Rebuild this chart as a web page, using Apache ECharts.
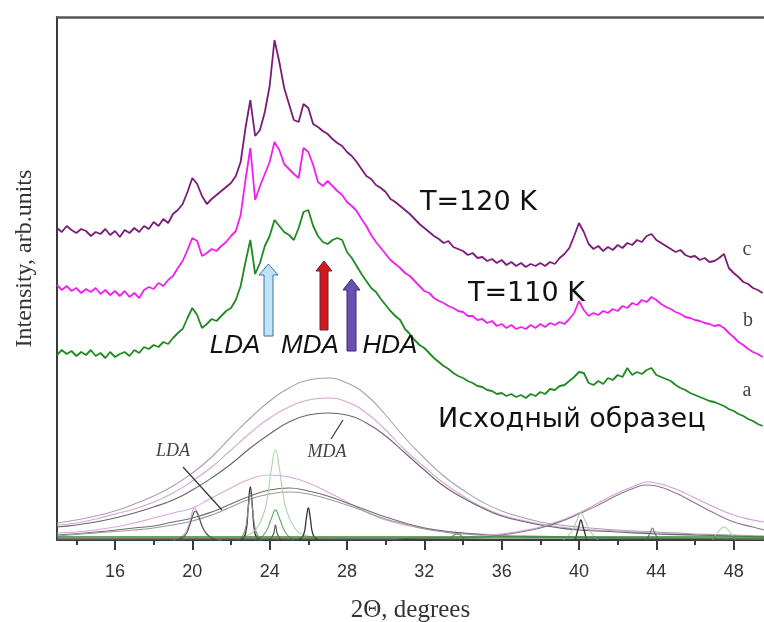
<!DOCTYPE html>
<html>
<head>
<meta charset="utf-8">
<script src="https://cdn.jsdelivr.net/npm/echarts@6/dist/echarts.min.js"></script>
<style>
html,body{margin:0;padding:0;background:#fff;}
#chart{width:764px;height:622px;}
</style>
</head>
<body>
<div id="chart"></div>
<script>
// 2Theta grid of the measured patterns (degrees)
const X = [
13,13.25,13.5,13.75, 14,14.25,14.5,14.75, 15,15.25,15.5,15.75, 16,16.25,16.5,16.75,
17,17.25,17.5,17.75, 18,18.25,18.5,18.75, 19,19.25,19.5,19.75, 20,20.25,20.5,20.75,
21,21.25,21.5,21.75, 22,22.25,22.5,22.75, 23,23.25,23.5,23.75, 24,24.25,24.5,24.75,
25,25.25,25.5,25.75, 26,26.25,26.5,26.75, 27,27.25,27.5,27.75, 28,28.25,28.5,28.75,
29,29.25,29.5,29.75, 30,30.25,30.5,30.75, 31,31.25,31.5,31.75, 32,32.25,32.5,32.75,
33,33.25,33.5,33.75, 34,34.25,34.5,34.75, 35,35.25,35.5,35.75, 36,36.25,36.5,36.75,
37,37.25,37.5,37.75, 38,38.25,38.5,38.75, 39,39.25,39.5,39.75, 40,40.25,40.5,40.75,
41,41.25,41.5,41.75, 42,42.25,42.5,42.75, 43,43.25,43.5,43.75, 44,44.25,44.5,44.75,
45,45.25,45.5,45.75, 46,46.25,46.5,46.75, 47,47.25,47.5,47.75, 48,48.25,48.5,48.75,
49,49.25,49.5
];

// curve c : T=120 K
const specC = [
312,308,314,310, 307,311,309,304, 308,306,311,305, 309,303,310,307,
312,308,314,311, 318,314,321,317, 326,330,336,348, 362,356,344,336,
341,345,349,353, 357,364,378,412, 440,404,410,428, 454,500,478,452,
436,420,418,436, 432,416,413,409, 406,401,397,394, 388,384,378,371,
364,361,355,352, 348,341,338,334, 330,326,321,316, 312,308,304,301,
297,299,293,291, 289,285,287,282, 283,279,281,277, 280,275,278,274,
277,273,276,274, 277,274,278,276, 282,286,292,304, 317,308,296,291,
294,289,293,290, 295,292,297,295, 300,298,304,306, 300,297,294,291,
288,290,285,283, 284,280,282,278, 279,282,286,272, 267,263,258,256,
252,250,247
];

// curve b : T=110 K
const specB = [
255,250,254,249, 252,247,251,248, 252,246,250,245, 249,244,249,243,
247,242,250,253, 251,257,254,260, 264,272,279,290, 302,299,284,287,
291,289,294,298, 304,309,325,360, 392,340,354,366, 378,398,390,376,
371,366,362,392, 388,375,358,354, 359,354,349,345, 338,334,329,321,
314,305,298,292, 286,280,276,272, 267,264,259,254, 249,247,242,239,
237,234,232,229, 228,224,224,220, 221,217,219,214, 216,212,215,211,
213,211,215,212, 216,213,217,215, 218,216,221,227, 239,230,224,227,
225,229,227,231, 229,234,232,237, 235,240,238,243, 240,236,233,231,
228,226,223,222, 220,219,217,216, 214,215,212,207, 203,198,195,191,
188,186,183
];

// curve a : initial sample
const specA = [
185,190,186,189, 184,188,185,190, 184,187,182,188, 183,186,188,184,
190,187,193,191, 195,193,198,196, 202,207,211,222, 232,225,212,216,
221,219,224,229, 232,240,254,278, 300,266,277,294, 304,320,314,308,
305,300,312,328, 330,314,304,298, 296,300,302,300, 288,282,274,266,
259,252,248,241, 235,229,224,220, 211,206,200,195, 192,187,182,178,
174,171,167,164, 162,159,157,154, 153,150,149,146, 147,144,146,143,
145,142,146,144, 148,146,151,150, 154,155,159,163, 168,167,157,155,
159,156,162,160, 165,163,172,165, 168,166,170,172, 165,163,161,159,
155,152,150,147, 145,143,141,139, 138,136,134,131, 129,126,124,121,
119,116,114
];

// fitted components [2Theta, intensity]
const mdaTop = [[13,17],[14,20],[15,24],[16,29],[17,36],[18,44],[19,54],[20,67],[21,83],[22,103],[23,122],[24,139],[25,152],[26,160],[27,162],[28,157],[29,145],[30,125],[31,102],[32,82],[33,64],[34,50],[35,38],[36,29],[37,23],[38,18],[39,15],[40,13],[42,10],[44,8],[46,6],[48,5],[49.57,4]];
const mdaMid = [[13,15],[14,17],[15,21],[16,26],[17,31],[18,38],[19,47],[20,59],[21,73],[22,90],[23,107],[24,122],[25,133],[26,140],[27,142],[28,138],[29,127],[30,110],[31,90],[32,73],[33,57],[34,44],[35,33],[36,25],[37,20],[38,16],[39,13],[40,11],[42,9],[44,7],[46,5],[48,4],[49.57,3]];
const mdaLow = [[13,13],[14,15],[15,18],[16,22],[17,27],[18,33],[19,40],[20,50],[21,62],[22,76],[23,92],[24,106],[25,118],[26,125],[27,127],[28,125],[29,117],[30,104],[31,87],[32,70],[33,54],[34,42],[35,32],[36,24],[37,19],[38,15],[39,12],[40,10],[42,8],[44,6],[46,5],[48,4],[49.57,3]];
const ldaPink = [[13,7],[14,8],[15,10],[16,13],[17,17],[18,22],[19,27],[20,32],[21,42],[22,52],[23,61],[24,65],[25,63],[26,57],[27,48],[28,38],[29,28],[30,20],[31,15],[32,12],[33,9],[34,7],[36,5],[38,4],[40,3],[44,2],[49.57,1]];
const ldaGrey1 = [[13,5],[15,8],[17,12],[18,14],[19,18],[20,22],[21,28],[22,36],[23,44],[24,50],[25,52],[26,49],[27,44],[28,37],[29,30],[30,23],[31,17],[32,12],[33,9],[34,7],[36,4],[38,3],[42,2],[49.57,1]];
const ldaGrey2 = [[13,4],[15,7],[17,10],[18,12],[19,15],[20,19],[21,25],[22,33],[23,41],[24,46],[25,48],[26,46],[27,41],[28,35],[29,28],[30,21],[31,16],[32,11],[33,8],[34,6],[36,4],[38,3],[42,2],[49.57,1]];
const hdaPink = [[13,1],[30,2],[32,2],[34,3],[36,6],[37,9],[38,13],[39,19],[40,27],[41,37],[42,47],[43,55],[43.5,58],[44,57],[45,51],[46,42],[47,33],[48,25],[49,20],[49.57,18]];
const hdaGrey = [[13,1],[30,1],[32,2],[34,2],[36,5],[37,8],[38,12],[39,18],[40,26],[41,35],[42,45],[43,53],[43.5,55],[44,54],[45,47],[46,37],[47,27],[48,18],[49,13],[49.57,10]];
const pk20a = [[19,0],[19.5,4],[19.8,14],[20,28],[20.1,32],[20.25,28],[20.5,14],[20.8,5],[21.2,1],[21.5,0]];
const pk20b = [[19.1,0],[19.6,4],[19.85,14],[20.05,26],[20.15,29],[20.3,25],[20.55,12],[20.85,4],[21.3,0]];
const pk23a = [[22.5,0],[22.75,6],[22.9,35],[23,53],[23.1,35],[23.25,6],[23.5,0]];
const pk23b = [[22.4,0],[22.7,8],[22.88,30],[23,47],[23.12,30],[23.3,8],[23.6,0]];
const pk24big = [[22.8,4],[23.3,11],[23.7,27],[23.9,45],[24.1,72],[24.3,90],[24.5,72],[24.7,45],[24.9,28],[25.3,12],[25.8,5],[26.5,2]];
const pk24mid = [[23.4,0],[23.8,8],[24.1,22],[24.3,30],[24.5,22],[24.8,8],[25.2,0]];
const pk24small = [[24,0],[24.2,6],[24.3,15],[24.4,6],[24.6,0]];
const pk26 = [[25.5,0],[25.75,5],[25.9,22],[26,32],[26.1,22],[26.25,5],[26.5,0]];
const pk34 = [[33.3,0],[33.7,6],[34.1,0]];
const pk40wide = [[39.2,0],[39.6,8],[39.9,20],[40.1,27],[40.3,20],[40.6,8],[41,0]];
const pk40 = [[39.8,0],[40,14],[40.1,20],[40.2,14],[40.4,0]];
const pk44 = [[43.5,0],[43.7,8],[43.8,12],[43.9,8],[44.1,0]];
const pk47 = [[46.9,0],[47.2,8],[47.5,13],[47.8,8],[48.1,0]];
const baseGreen = [[13,3],[49.57,3]];
const baseDark = [[13,1],[49.57,1]];

const majorTicks = [16,20,24,28,32,36,40,44,48];
const minorTicks = [14,18,22,26,30,34,38,42,46];

const chart = echarts.init(document.getElementById('chart'), null, {renderer:'canvas'});

function comp(name, data, color, w, z){
  return {name:name, type:'line', data:data, showSymbol:false, symbol:'none', smooth:0.5,
    lineStyle:{color:color, width:w||1.1}, z:z||2, silent:true};
}
function spec(name, ys, color){
  return {name:name, type:'line', data:X.map((x,i)=>[x, ys[i]]), showSymbol:false, symbol:'none',
    lineStyle:{color:color, width:1.8}, z:5, silent:true};
}

const axisCol = '#3a3a3a';
const option = {
  animation:false,
  backgroundColor:'#ffffff',
  grid:{left:57, right:0, top:17, bottom:82, outerBoundsMode:'none', containLabel:false},
  xAxis:[
    {type:'value', min:13, max:49.57, position:'bottom',
     axisLine:{show:true, onZero:false, lineStyle:{color:axisCol, width:2}},
     axisTick:{show:true, customValues:majorTicks, length:10, lineStyle:{color:axisCol, width:2}},
     axisLabel:{show:true, customValues:majorTicks, margin:23, fontSize:18, fontFamily:'Liberation Sans', color:'#333'},
     splitLine:{show:false},
     name:'2Θ, degrees', nameLocation:'middle', nameGap:58,
     nameTextStyle:{fontFamily:'Liberation Serif', fontSize:25, color:'#333'}},
    {type:'value', min:13, max:49.57, position:'bottom', offset:0,
     axisLine:{show:false, onZero:false},
     axisTick:{show:true, customValues:minorTicks, length:5, lineStyle:{color:axisCol, width:2}},
     axisLabel:{show:false}, splitLine:{show:false}},
    {type:'value', min:13, max:49.57, position:'top', offset:0,
     axisLine:{show:true, onZero:false, lineStyle:{color:'#555', width:2.5}},
     axisTick:{show:false}, axisLabel:{show:false}, splitLine:{show:false}}
  ],
  yAxis:{type:'value', min:0, max:523,
     axisLine:{show:true, onZero:false, lineStyle:{color:axisCol, width:2}},
     axisTick:{show:false}, axisLabel:{show:false}, splitLine:{show:false},
     name:'Intensity, arb.units', nameLocation:'middle', nameRotate:90, nameGap:20,
     nameTextStyle:{fontFamily:'Liberation Serif', fontSize:24, color:'#333', padding:[0,0,0,40]}},
  series:[
    comp('MDA top', mdaTop, '#aaa0aa'),
    comp('MDA mid', mdaMid, '#d9a3d9'),
    comp('MDA low', mdaLow, '#666666'),
    comp('LDA pink', ldaPink, '#dca6dc'),
    comp('LDA grey 1', ldaGrey1, '#6e6e6e'),
    comp('LDA grey 2', ldaGrey2, '#9a9a9a'),
    comp('HDA pink', hdaPink, '#d49ed4'),
    comp('HDA grey', hdaGrey, '#8a788a'),
    comp('peak 20 a', pk20a, '#d59fd5'),
    comp('peak 20 b', pk20b, '#555555'),
    comp('peak 23 a', pk23a, '#333333', 1.3),
    comp('peak 23 b', pk23b, '#8a8a8a'),
    comp('peak 24 big', pk24big, '#a8d4a8'),
    comp('peak 24 mid', pk24mid, '#5aa85a'),
    comp('peak 24 small', pk24small, '#555555'),
    comp('peak 26', pk26, '#333333', 1.3),
    comp('peak 34', pk34, '#777777'),
    comp('peak 40 wide', pk40wide, '#a8d4a8'),
    comp('peak 40', pk40, '#333333', 1.3),
    comp('peak 44', pk44, '#666666'),
    comp('peak 47', pk47, '#a8d4a8'),
    comp('baseline green', baseGreen, '#2f8a2f', 1.4),
    comp('baseline dark', baseDark, '#444444', 1.2),
    spec('a', specA, '#1f8a22'),
    spec('b', specB, '#f01ef0'),
    spec('c', specC, '#7a1c78')
  ],
  graphic:[
    // arrows
    {type:'polygon', z:100, shape:{points:[[264,336],[264,275],[259,275],[268.5,264],[278,275],[273,275],[273,336]]},
     style:{fill:'#bfe4f8', stroke:'#3b6ea5', lineWidth:1}},
    {type:'polygon', z:100, shape:{points:[[320,330],[320,271],[316,271],[324,261],[332,271],[328,271],[328,330]]},
     style:{fill:'#d8161e', stroke:'#5a2a40', lineWidth:1}},
    {type:'polygon', z:100, shape:{points:[[347,351],[347,290],[343,290],[351.5,279],[360,290],[356,290],[356,351]]},
     style:{fill:'#6a50b2', stroke:'#3b2a70', lineWidth:1}},
    // leader lines
    {type:'line', z:100, shape:{x1:183, y1:467, x2:222, y2:510}, style:{stroke:'#333', lineWidth:1.2}},
    {type:'line', z:100, shape:{x1:331, y1:439, x2:343, y2:420}, style:{stroke:'#333', lineWidth:1.2}},
    // texts
    {type:'text', z:100, x:173, y:451, style:{text:'LDA', font:'italic 18px "Liberation Serif"', fill:'#444', align:'center', verticalAlign:'middle'}},
    {type:'text', z:100, x:327, y:452, style:{text:'MDA', font:'italic 18px "Liberation Serif"', fill:'#444', align:'center', verticalAlign:'middle'}},
    {type:'text', z:100, x:235, y:346, style:{text:'LDA', font:'italic 26px "Liberation Sans"', fill:'#111', align:'center', verticalAlign:'middle'}},
    {type:'text', z:100, x:310, y:346, style:{text:'MDA', font:'italic 26px "Liberation Sans"', fill:'#111', align:'center', verticalAlign:'middle'}},
    {type:'text', z:100, x:390, y:346, style:{text:'HDA', font:'italic 26px "Liberation Sans"', fill:'#111', align:'center', verticalAlign:'middle'}},
    {type:'text', z:100, x:420, y:203, style:{text:'T=120 K', font:'27px "DejaVu Sans"', fill:'#111', align:'left', verticalAlign:'middle'}},
    {type:'text', z:100, x:468, y:294, style:{text:'T=110 K', font:'27px "DejaVu Sans"', fill:'#111', align:'left', verticalAlign:'middle'}},
    {type:'text', z:100, x:438, y:420, style:{text:'Исходный образец', font:'27px "DejaVu Sans"', fill:'#111', align:'left', verticalAlign:'middle'}},
    {type:'text', z:100, x:747, y:250, style:{text:'c', font:'20px "Liberation Serif"', fill:'#444', align:'center', verticalAlign:'middle'}},
    {type:'text', z:100, x:748, y:321, style:{text:'b', font:'20px "Liberation Serif"', fill:'#444', align:'center', verticalAlign:'middle'}},
    {type:'text', z:100, x:747, y:391, style:{text:'a', font:'20px "Liberation Serif"', fill:'#444', align:'center', verticalAlign:'middle'}}
  ]
};
chart.setOption(option);
</script>
</body>
</html>
